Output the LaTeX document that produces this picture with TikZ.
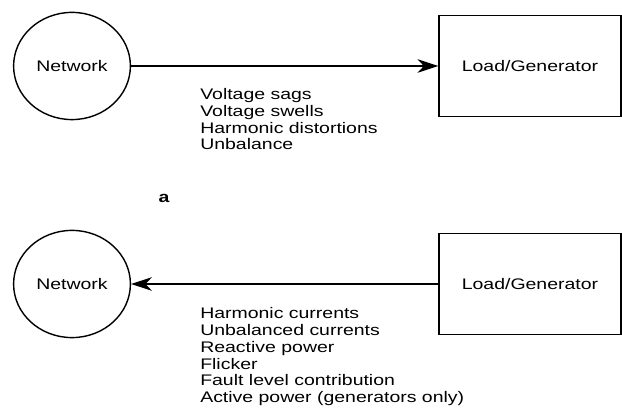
\documentclass[tikz,border=0pt]{standalone}
\usepackage{fontspec}
\setmainfont[FakeStretch=1.27]{Liberation Sans}
\usetikzlibrary{shapes.geometric,arrows.meta}
\begin{document}
\begin{tikzpicture}[
    network/.style={ellipse, draw, line width=1pt, inner sep=0pt,
      minimum width=2.92cm, minimum height=2.68cm},
    unit/.style={rectangle, draw, line width=1pt,
      minimum width=4.55cm, minimum height=2.53cm},
    effects/.style={align=left, anchor=north west, inner sep=0pt},
    flow/.style={line width=0.9pt, -{Stealth[length=0.52cm, width=0.34cm, inset=0.16cm]}},
    every node/.style={font=\fontsize{10.9}{11.9}\selectfont}
  ]
  \useasboundingbox (0,0) rectangle (15.55,10.25);

  % Network to load
  \node[network] (N-1) at (1.8,8.6) {Network};
  \node[unit] (L-1) at (13.25,8.6) {Load/Generator};
  \draw[flow] (N-1) -- (L-1);
  \node[effects] (E-1) at (5.0,8.04) {Voltage sags\\Voltage swells\\Harmonic distortions\\Unbalance};

  \node[font=\fontsize{10.9}{11.9}\selectfont\bfseries] (a) at (4.1,5.3) {a};

  % Load to network
  \node[network] (N-2) at (1.8,3.15) {Network};
  \node[unit] (L-2) at (13.25,3.15) {Load/Generator};
  \draw[flow] (L-2) -- (N-2);
  \node[effects] (E-2) at (5.0,2.56) {Harmonic currents\\Unbalanced currents\\Reactive power\\Flicker\\Fault level contribution\\Active power (generators only)};

\end{tikzpicture}
\end{document}
